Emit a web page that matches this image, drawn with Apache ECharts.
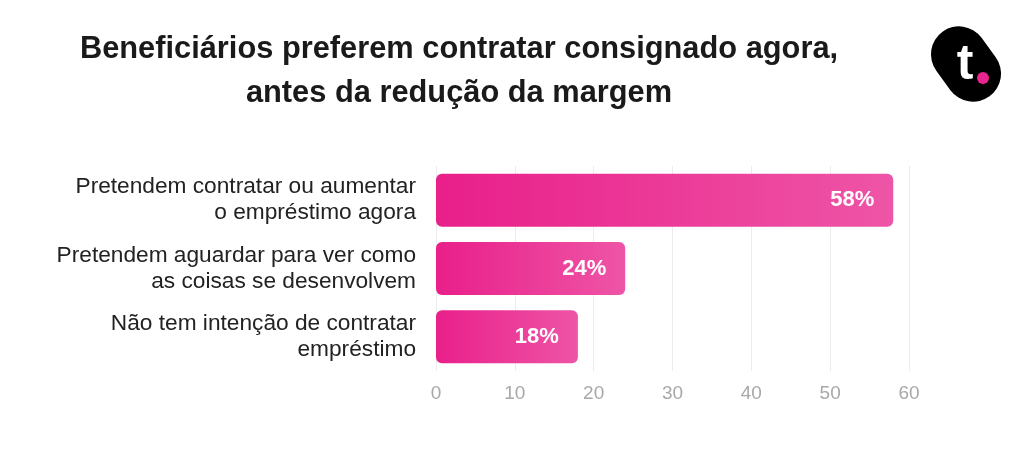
<!DOCTYPE html>
<html>
<head>
<meta charset="utf-8">
<script src="https://cdn.jsdelivr.net/npm/echarts@6/dist/echarts.min.js"></script>
<style>
  html, body { margin: 0; padding: 0; background: #fff; }
  #chart { width: 1024px; height: 470px; }
</style>
</head>
<body>
<div id="chart"></div>
<script>
// dados do gráfico
const categories = [
  'Pretendem contratar ou aumentar\no empréstimo agora',
  'Pretendem aguardar para ver como\nas coisas se desenvolvem',
  'Não tem intenção de contratar\nempréstimo'
]
const values = [58, 24, 18]
const titleLines = ['Beneficiários preferem contratar consignado agora,', 'antes da redução da margem']

const FONT = '"Liberation Sans", Arial, sans-serif'
const chart = echarts.init(document.getElementById('chart'))

const option = {
  backgroundColor: '#fff',
  grid: { left: 436, right: 115, top: 166, bottom: 99 },
  xAxis: {
    type: 'value',
    min: 0,
    max: 60,
    interval: 10,
    axisLine: { show: false },
    axisTick: { show: false },
    splitLine: { lineStyle: { color: '#ececec', width: 1 } },
    axisLabel: { color: '#a8a8a8', fontSize: 19, fontFamily: FONT, margin: 13 }
  },
  yAxis: {
    type: 'category',
    inverse: true,
    data: categories,
    axisLine: { show: false },
    axisTick: { show: false },
    axisLabel: {
      color: '#222',
      fontSize: 22.7,
      fontFamily: FONT,
      lineHeight: 26,
      align: 'right',
      margin: 20
    }
  },
  series: [
    {
      type: 'bar',
      data: values,
      barWidth: 53,
      itemStyle: {
        borderRadius: 6,
        color: new echarts.graphic.LinearGradient(0, 0, 1, 0, [
          { offset: 0, color: '#e91f8a' },
          { offset: 1, color: '#ee55a6' }
        ])
      },
      label: {
        show: true,
        position: 'insideRight',
        distance: 19,
        formatter: '{c}%',
        color: '#fff',
        fontSize: 22,
        fontWeight: 'bold',
        fontFamily: FONT
      }
    }
  ],
  graphic: [
    {
      type: 'text',
      style: {
        text: titleLines.join('\n'),
        x: 459,
        y: 28,
        fill: '#1a1a1a',
        font: 'bold 30.8px ' + FONT,
        lineHeight: 44,
        textAlign: 'center'
      }
    },
    {
      type: 'group',
      x: 966,
      y: 64,
      children: [
        {
          type: 'rect',
          rotation: -Math.PI * 0.3,
          shape: { x: -40, y: -28, width: 80, height: 56, r: 28 },
          style: { fill: '#000' }
        },
        {
          type: 'text',
          style: {
            text: 't',
            x: -1,
            y: 1,
            fill: '#fff',
            font: 'bold 50px ' + FONT,
            textAlign: 'center',
            textVerticalAlign: 'middle'
          }
        },
        {
          type: 'circle',
          shape: { cx: 17, cy: 14, r: 6 },
          style: { fill: '#e9248f' }
        }
      ]
    }
  ]
}

chart.setOption(option)
</script>
</body>
</html>
